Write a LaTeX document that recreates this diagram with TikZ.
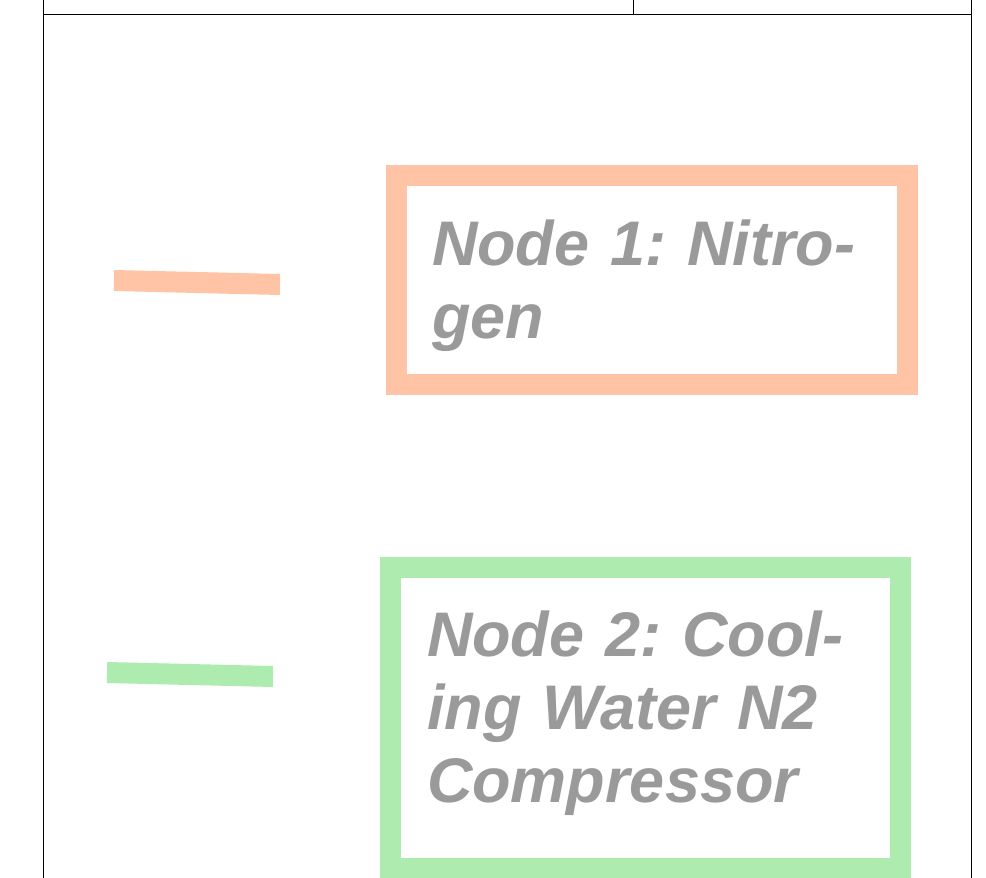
\documentclass[tikz,border=0pt]{standalone}
\usepackage{fontspec}
\setmainfont{Liberation Sans}
\usetikzlibrary{positioning,calc}
\definecolor{nodeorange}{HTML}{FFC3A5}
\definecolor{nodegreen}{HTML}{AEEBAE}
\definecolor{labelgray}{HTML}{9A9A9A}
\tikzset{
frame/.style = {draw=black, line width=1pt},
nodebox/.style = {draw, fill=white, rectangle, line width=21pt, align=left, text=labelgray, inner xsep=0pt, inner ysep=0pt, font=\fontsize{63}{73}\selectfont\bfseries\itshape\frenchspacing},
legline/.style = {line width=21pt}
}
\begin{document}
\begin{tikzpicture}[x=1pt, y=-1pt]
   \useasboundingbox (0,0) rectangle (986,878);
   % page frame
   \draw[frame] (43,0) -- (43,878);
   \draw[frame] (971,0) -- (971,878);
   \draw[frame] (43,14.5) -- (971,14.5);
   \draw[frame] (633,0) -- (633,14.5);
   % legend strokes
   \coordinate (nitroA) at (114,280.5);
   \coordinate (nitroB) at (280,284.5);
   \coordinate (coolA) at (107,672.5);
   \coordinate (coolB) at (273,676.5);
   \draw[legline, nodeorange] (nitroA) -- (nitroB);
   \draw[legline, nodegreen] (coolA) -- (coolB);
   % nodes
   \node [nodebox, draw=nodeorange, minimum width=511pt, minimum height=209pt, text width=440pt] (nitrogen) at (652,280) {\mbox{Node 1: Nitro-}\\gen\par\vspace*{-12pt}};
   \node [nodebox, draw=nodegreen, minimum width=510pt, minimum height=301pt, text width=437pt] (cooling) at (645.5,718) {\mbox{Node 2: Cool-}\\ing Water N2\\Compressor\par\vspace*{10pt}};
\end{tikzpicture}
\end{document}
